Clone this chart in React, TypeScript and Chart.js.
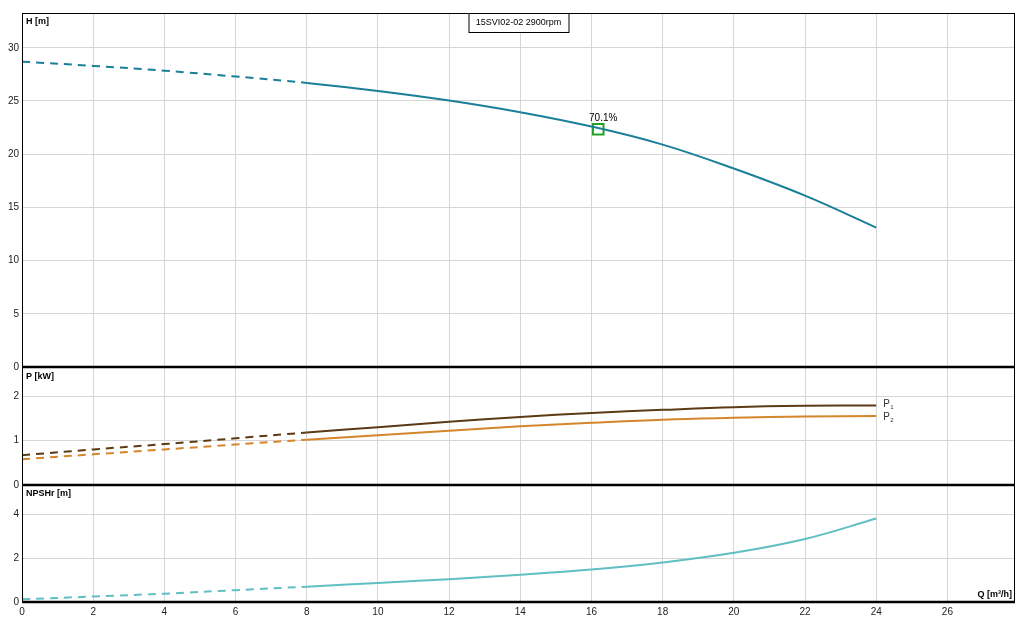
import { useEffect, useRef } from 'react'
import { Chart, ChartConfiguration, registerables } from 'chart.js'

Chart.register(...registerables)

// flow Q [m³/h]
const flow = [0, 2, 4, 6, 8, 10, 12, 14, 16, 18, 20, 22, 24]
// head H [m]
const head = [28.7, 28.3, 27.85, 27.3, 26.7, 25.95, 25.05, 23.95, 22.6, 20.9, 18.65, 16.1, 13.1]
// power P1 / P2 [kW]
const powerP1 = [0.67, 0.8, 0.92, 1.05, 1.18, 1.3, 1.42, 1.53, 1.62, 1.69, 1.75, 1.78, 1.79]
const powerP2 = [0.58, 0.69, 0.8, 0.91, 1.02, 1.12, 1.22, 1.32, 1.4, 1.47, 1.51, 1.54, 1.55]
// NPSHr [m]
const npshr = [0.12, 0.25, 0.38, 0.54, 0.7, 0.87, 1.04, 1.24, 1.48, 1.8, 2.24, 2.87, 3.8]
// best efficiency point
const bepFlow = 16.19
const bepHead = 22.35
const bepLabel = '70.1%'
// solid curve starts here, dashed before
const dashedUntil = 8
const titleText = '15SVI02-02 2900rpm'

const FONT = '"Liberation Sans", Arial, sans-serif'

const toPoints = (ys: number[]) => flow.map((x, i) => ({ x, y: ys[i] }))

const dashSegment = {
  borderDash: (ctx: any) => (ctx.p1.parsed.x <= dashedUntil ? [8, 6] : undefined),
}

const overlayPlugin = {
  id: 'pumpOverlay',
  afterDraw(chart: any) {
    const { ctx, chartArea, scales } = chart
    const { left, right, top, bottom } = chartArea
    const sepH = scales.yH.bottom
    const sepP = scales.yP.bottom

    ctx.save()
    // outer frame
    ctx.strokeStyle = '#000'
    ctx.lineWidth = 1
    ctx.strokeRect(left + 0.5, top + 0.5, right - left - 1, bottom - top)
    // thick panel separators
    ctx.lineWidth = 2.5
    ctx.beginPath()
    ctx.moveTo(left, sepH)
    ctx.lineTo(right, sepH)
    ctx.moveTo(left, sepP)
    ctx.lineTo(right, sepP)
    ctx.moveTo(left, bottom)
    ctx.lineTo(right, bottom)
    ctx.stroke()

    // panel titles
    ctx.fillStyle = '#000'
    ctx.font = `bold 9px ${FONT}`
    ctx.textBaseline = 'middle'
    ctx.textAlign = 'left'
    ctx.fillText('H [m]', left + 4, top + 9)
    ctx.fillText('P [kW]', left + 4, sepH + 10)
    ctx.fillText('NPSHr [m]', left + 4, sepP + 9)
    ctx.textAlign = 'right'
    ctx.fillText('Q [m³/h]', right - 3, bottom - 7)

    // title box
    ctx.font = `9px ${FONT}`
    ctx.textAlign = 'center'
    const cx = (left + right) / 2
    const tw = 100
    ctx.fillStyle = '#fff'
    ctx.fillRect(cx - tw / 2, top, tw, 19)
    ctx.lineWidth = 1
    ctx.strokeRect(cx - tw / 2 + 0.5, top + 0.5, tw, 19)
    ctx.fillStyle = '#000'
    ctx.fillText(titleText, cx, top + 10)

    // BEP label
    const bx = scales.x.getPixelForValue(bepFlow)
    const by = scales.yH.getPixelForValue(bepHead)
    ctx.font = `10px ${FONT}`
    ctx.fillText(bepLabel, bx + 5, by - 11)

    // P1 / P2 labels
    const ex = scales.x.getPixelForValue(flow[flow.length - 1]) + 7
    const p1y = scales.yP.getPixelForValue(powerP1[powerP1.length - 1])
    const p2y = scales.yP.getPixelForValue(powerP2[powerP2.length - 1])
    ctx.textAlign = 'left'
    ctx.fillStyle = '#333'
    ctx.font = `10px ${FONT}`
    ctx.fillText('P', ex, p1y - 1)
    ctx.fillText('P', ex, p2y + 1)
    ctx.font = `6px ${FONT}`
    ctx.fillText('1', ex + 7, p1y + 2)
    ctx.fillText('2', ex + 7, p2y + 4)
    ctx.restore()
  },
}

const tickFont = { family: FONT, size: 10 }
const gridColor = '#d6d6d6'

export default function App() {
  const canvasRef = useRef<HTMLCanvasElement>(null)
  const chartRef = useRef<Chart | null>(null)

  useEffect(() => {
    if (!canvasRef.current) return
    if (chartRef.current) chartRef.current.destroy()
    const ctx = canvasRef.current.getContext('2d')
    if (!ctx) return

    const curve = (label: string, ys: number[], axis: string, color: string) =>
      ({
        label,
        data: toPoints(ys),
        yAxisID: axis,
        borderColor: color,
        borderWidth: 2,
        pointRadius: 0,
        tension: 0.4,
        segment: dashSegment,
      } as any)

    const config: ChartConfiguration = {
      type: 'line',
      data: {
        datasets: [
          curve('H', head, 'yH', '#1a7f98'),
          {
            label: 'BEP',
            data: [{ x: bepFlow, y: bepHead }],
            yAxisID: 'yH',
            showLine: false,
            pointStyle: 'rect',
            pointRadius: 7.5,
            pointBorderWidth: 2,
            pointBorderColor: '#21a12a',
            pointBackgroundColor: 'rgba(0,0,0,0)',
          },
          curve('P1', powerP1, 'yP', '#5b3a14'),
          curve('P2', powerP2, 'yP', '#d4862c'),
          curve('NPSHr', npshr, 'yN', '#5fbfc3'),
        ],
      },
      options: {
        responsive: false,
        animation: false,
        layout: { padding: { top: 13, right: 11, left: 0, bottom: 0 } },
        plugins: {
          legend: { display: false },
          tooltip: { enabled: false },
        },
        scales: {
          x: {
            type: 'linear',
            min: 0,
            max: 27.9,
            ticks: { stepSize: 2, includeBounds: false, font: tickFont, color: '#222', padding: 4 },
            grid: { color: gridColor, drawTicks: false },
            border: { display: false },
            afterFit: (s: any) => {
              s.height = 23
            },
          },
          // bottom panel first: last-defined stacked axis sits on top
          yN: {
            type: 'linear',
            position: 'left',
            stack: 'panels',
            stackWeight: 117,
            min: 0,
            max: 5.33,
            ticks: { stepSize: 2, includeBounds: false, font: tickFont, color: '#222', padding: 3 },
            grid: { color: gridColor, drawTicks: false },
            border: { display: false },
            afterFit: (s: any) => {
              s.width = 22
            },
          },
          yP: {
            type: 'linear',
            position: 'left',
            stack: 'panels',
            stackWeight: 118,
            min: 0,
            max: 2.654,
            ticks: { stepSize: 1, includeBounds: false, font: tickFont, color: '#222', padding: 3 },
            grid: { color: gridColor, drawTicks: false },
            border: { display: false },
            afterFit: (s: any) => {
              s.width = 22
            },
          },
          yH: {
            type: 'linear',
            position: 'left',
            stack: 'panels',
            stackWeight: 354,
            min: 0,
            max: 33.27,
            ticks: { stepSize: 5, includeBounds: false, font: tickFont, color: '#222', padding: 3 },
            grid: { color: gridColor, drawTicks: false },
            border: { display: false },
            afterFit: (s: any) => {
              s.width = 22
            },
          },
        },
      } as any,
      plugins: [overlayPlugin],
    }

    chartRef.current = new Chart(ctx, config)

    return () => {
      if (chartRef.current) {
        chartRef.current.destroy()
        chartRef.current = null
      }
    }
  }, [])

  return (
    <div style={{ position: 'absolute', left: 0, top: 0, width: 1026, height: 625, background: '#fff' }}>
      <canvas ref={canvasRef} width={1026} height={625} style={{ width: 1026, height: 625 }} />
    </div>
  )
}
